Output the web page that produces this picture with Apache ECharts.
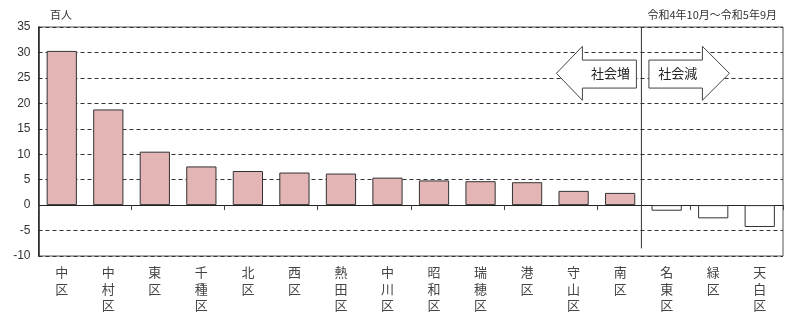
<!DOCTYPE html>
<html><head><meta charset="utf-8">
<script src="https://cdn.jsdelivr.net/npm/echarts@6/dist/echarts.min.js"></script>
<style>html,body{margin:0;padding:0;background:#fff}#c{width:800px;height:317px}</style>
</head><body><div id="c"></div>
<script>
const categories = ['中区','中村区','東区','千種区','北区','西区','熱田区','中川区','昭和区','瑞穂区','港区','守山区','南区','名東区','緑区','天白区'];
const values = [30.3, 18.8, 10.5, 7.6, 6.7, 6.4, 6.2, 5.4, 4.85, 4.7, 4.5, 2.8, 2.4, -1.1, -2.6, -4.3];
const yTicks = { min: -10, max: 35, interval: 5 };
const unitLabel = '百人';
const periodLabel = '令和4年10月～令和5年9月';
const gainLabel = '社会増';
const lossLabel = '社会減';

const FONT = '"Noto Sans CJK JP", sans-serif';
const chart = echarts.init(document.getElementById('c'), null, {renderer: 'canvas'});
chart.setOption({
  animation: false,
  backgroundColor: '#fff',
  grid: { left: 38.5, right: 17, top: 27, bottom: 61, show: true, borderColor: '#555', borderWidth: 1, backgroundColor: 'transparent' },
  xAxis: [{
    type: 'category', data: categories, position: 'bottom',
    axisLine: { show: false, onZero: false }, axisTick: { show: false },
    axisLabel: { interval: 0, fontFamily: FONT, fontSize: 13, color: '#444', lineHeight: 16.5, margin: 8,
      formatter: v => v.split('').join('\n') }
  }, {
    type: 'category', data: categories, position: 'top',
    axisLine: { show: true, onZero: true, lineStyle: { color: '#222', width: 1 } },
    axisTick: { show: true, inside: true, length: 5, lineStyle: { color: '#444' } },
    axisLabel: { show: false }
  }],
  yAxis: {
    type: 'value', min: yTicks.min, max: yTicks.max, interval: yTicks.interval,
    axisLine: { show: true, lineStyle: { color: '#222', width: 1.5 } },
    axisTick: { show: false },
    axisLabel: { fontFamily: '"Liberation Sans", Arial, sans-serif', fontSize: 12, color: '#333', margin: 8 },
    splitLine: { show: true, lineStyle: { color: '#333', type: [4, 3], width: 1 } }
  },
  series: [{
    type: 'bar', data: values.map(v => ({ value: v, itemStyle: { color: v < 0 ? '#ffffff' : '#E3B5B4' } })),
    barWidth: '65%',
    itemStyle: { borderColor: '#333', borderWidth: 1 },
    xAxisIndex: 0
  }],
  graphic: []
});

function drawAnnotations() {
  const p12 = chart.convertToPixel({ xAxisIndex: 0 }, 12);
  const p13 = chart.convertToPixel({ xAxisIndex: 0 }, 13);
  const sepX = (p12 + p13) / 2 - 2;
  const yTop = chart.convertToPixel({ yAxisIndex: 0 }, yTicks.max);
  const yBot = chart.convertToPixel({ yAxisIndex: 0 }, -8.5);
  const bT = chart.convertToPixel({ yAxisIndex: 0 }, 28.5);
  const bB = chart.convertToPixel({ yAxisIndex: 0 }, 23.0);
  const hT = chart.convertToPixel({ yAxisIndex: 0 }, 31.2);
  const hB = chart.convertToPixel({ yAxisIndex: 0 }, 20.6);
  const yc = (hT + hB) / 2;
  const L = { tip: sepX - 85, base: sepX - 59, end: sepX - 5 };
  const R = { start: sepX + 7.5, base: sepX + 61, tip: sepX + 88 };
  const arrowStyle = { fill: '#fff', stroke: '#444', lineWidth: 1 };
  chart.setOption({
    graphic: [
      { type: 'line', shape: { x1: sepX, y1: yTop, x2: sepX, y2: yBot }, style: { stroke: '#333', lineWidth: 1 }, z: 10 },
      { type: 'polygon', shape: { points: [[L.tip, yc], [L.base, hT], [L.base, bT], [L.end, bT], [L.end, bB], [L.base, bB], [L.base, hB]] }, style: arrowStyle, z: 10 },
      { type: 'polygon', shape: { points: [[R.tip, yc], [R.base, hT], [R.base, bT], [R.start, bT], [R.start, bB], [R.base, bB], [R.base, hB]] }, style: arrowStyle, z: 10 },
      { type: 'text', x: (L.base + L.end) / 2 + 1, y: yc, style: { text: gainLabel, font: '13px ' + FONT, fill: '#222', align: 'center', verticalAlign: 'middle' }, z: 11 },
      { type: 'text', x: (R.start + R.base) / 2 + 2, y: yc, style: { text: lossLabel, font: '13px ' + FONT, fill: '#222', align: 'center', verticalAlign: 'middle' }, z: 11 },
      { type: 'text', x: 50, y: 15, style: { text: unitLabel, font: '11px ' + FONT, fill: '#333', align: 'left', verticalAlign: 'middle' } },
      { type: 'text', x: 777, y: 15, style: { text: periodLabel, font: '11px ' + FONT, fill: '#333', align: 'right', verticalAlign: 'middle' } }
    ]
  });
}
drawAnnotations();
</script></body></html>
